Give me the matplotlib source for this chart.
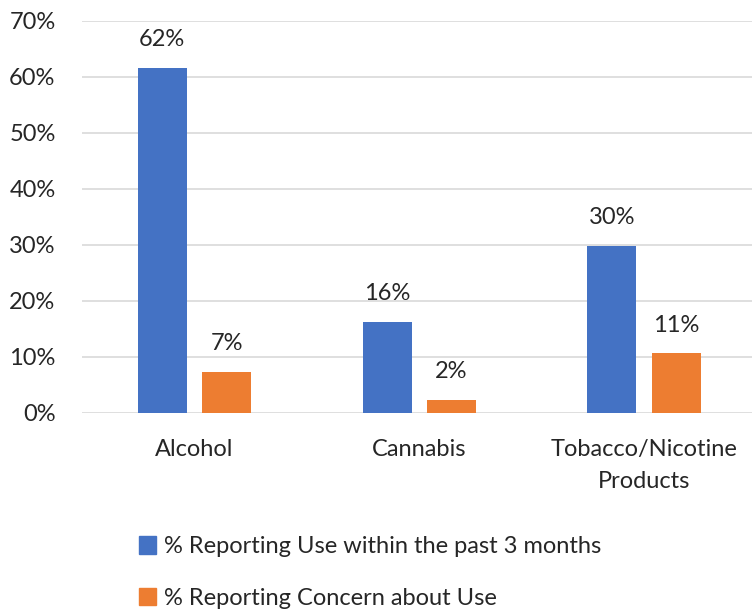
import numpy as np
import matplotlib
matplotlib.use("Agg")
import matplotlib.pyplot as plt
from matplotlib.patches import Patch

plt.rcParams['font.family'] = ['Lato', 'DejaVu Sans']

# data
categories = ["Alcohol", "Cannabis", "Tobacco/Nicotine\nProducts"]
use_pct = [61.6, 16.2, 29.8]
concern_pct = [7.3, 2.3, 10.6]
series_names = ["% Reporting Use within the past 3 months",
                "% Reporting Concern about Use"]
yticks = [0, 10, 20, 30, 40, 50, 60, 70]

blue = "#4472C4"
orange = "#ED7D31"
text_col = "#262626"
fs = 17

fig = plt.figure(figsize=(7.52, 6.14), dpi=100)
ax = fig.add_axes([0.109, 0.328, 0.891, 0.638])

x = np.arange(len(categories))
w = 0.218
off = 0.143
b1 = ax.bar(x - off, use_pct, w, color=blue, zorder=3)
b2 = ax.bar(x + off, concern_pct, w, color=orange, zorder=3)

for bars, vals in ((b1, use_pct), (b2, concern_pct)):
    for rect, v in zip(bars, vals):
        ax.annotate(f"{round(v):.0f}%", (rect.get_x() + rect.get_width() / 2, v),
                    xytext=(0, 15.5), textcoords="offset points",
                    ha="center", va="baseline", fontsize=fs, color=text_col)

ax.set_xlim(-0.5, 2.48)
ax.set_ylim(0, 70)
ax.set_yticks(yticks)
ax.set_yticklabels([f"{t}%" for t in yticks])
ax.set_xticks(x)
ax.set_xticklabels(categories, linespacing=1.65)
ax.tick_params(axis="both", length=0, labelsize=fs, colors=text_col)
ax.tick_params(axis="y", pad=19)
ax.tick_params(axis="x", pad=19)
ax.yaxis.grid(True, color="#D9D9D9", linewidth=1.2, zorder=0)
for s in ax.spines.values():
    s.set_visible(False)

handles = [Patch(color=blue), Patch(color=orange)]
fig.legend(handles, series_names, loc="upper left", bbox_to_anchor=(0.172, 0.142),
           frameon=False, fontsize=fs, handlelength=0.75, handleheight=0.75,
           handletextpad=0.3, labelspacing=1.3, borderaxespad=0, labelcolor=text_col)

fig.savefig("out.png", dpi=100)
